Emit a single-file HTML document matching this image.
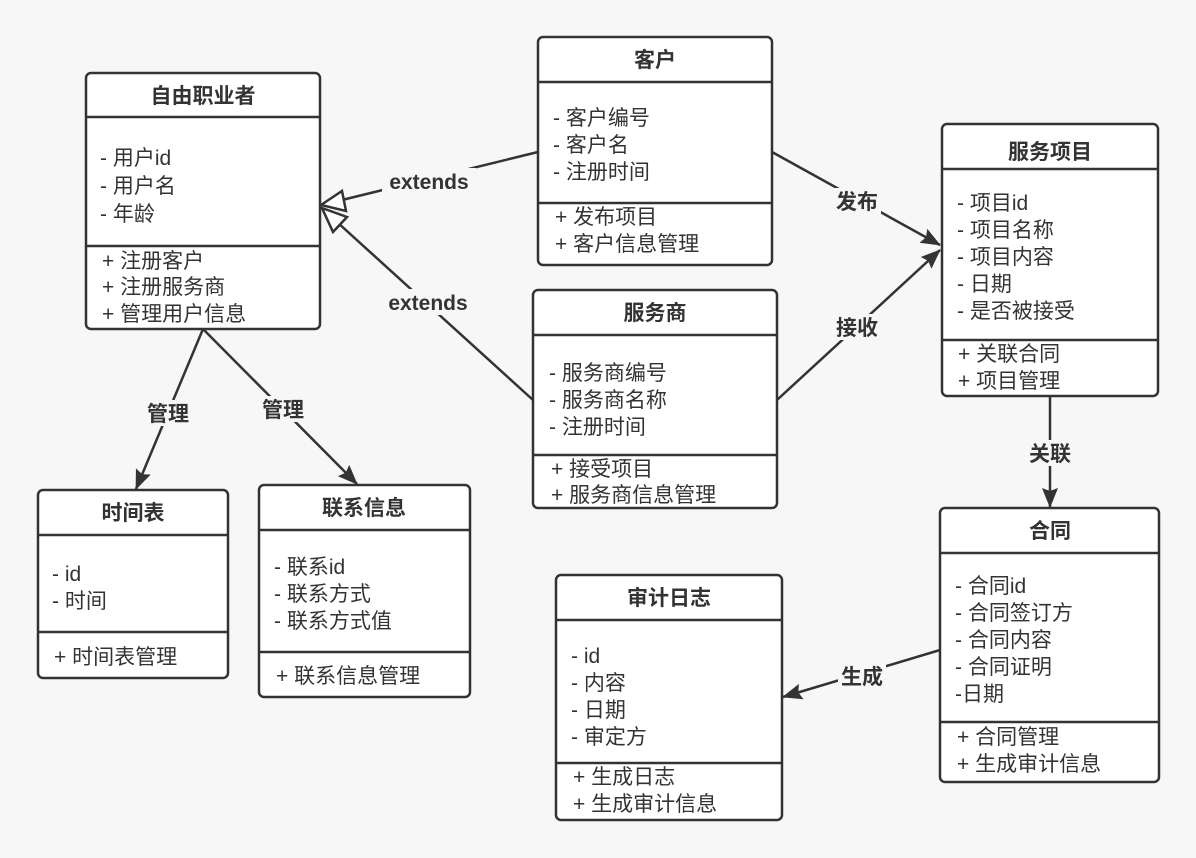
<!DOCTYPE html>
<html><head><meta charset="utf-8"><style>
html,body{margin:0;padding:0;background:#f7f7f7;}
svg{display:block;font-family:"Liberation Sans","Noto Sans CJK SC",sans-serif;}
.b{fill:#fff;stroke:#333;stroke-width:2.5;}
.l{stroke:#333;stroke-width:2.5;fill:none;}
.t{font-size:21px;fill:#333;}
.h{font-size:21px;font-weight:bold;fill:#333;text-anchor:middle;}
.lb{font-size:21px;font-weight:bold;fill:#333;text-anchor:middle;}
.bg{fill:#f7f7f7;}
</style></head><body>
<svg width="1196" height="858" viewBox="0 0 1196 858">
<defs>
<marker id="f" markerWidth="20" markerHeight="16" refX="19" refY="8" orient="auto" markerUnits="userSpaceOnUse" viewBox="0 0 20 16"><path d="M0,0 L20,8 L0,16 L3,8 z" fill="#333"/></marker>
</defs>
<line class="l" x1="538" y1="152" x2="342" y2="200"/>
<path d="M321,205 L342,191 L346,211 z" fill="#fff" stroke="#333" stroke-width="2.5"/>
<line class="l" x1="533" y1="400" x2="337" y2="222"/>
<path d="M322,208 L347,217 L333,232 z" fill="#fff" stroke="#333" stroke-width="2.5"/>
<line class="l" x1="772" y1="152" x2="940" y2="245" marker-end="url(#f)"/>
<line class="l" x1="777" y1="400" x2="940" y2="250" marker-end="url(#f)"/>
<line class="l" x1="1050" y1="396" x2="1050" y2="507" marker-end="url(#f)"/>
<line class="l" x1="203" y1="329" x2="136" y2="489" marker-end="url(#f)"/>
<line class="l" x1="203" y1="329" x2="357" y2="484" marker-end="url(#f)"/>
<line class="l" x1="940" y1="650" x2="783" y2="697" marker-end="url(#f)"/>
<rect class="bg" x="382" y="168" width="94" height="26"/><text class="lb" x="429" y="189">extends</text>
<rect class="bg" x="378" y="289" width="100" height="26"/><text class="lb" x="428" y="310">extends</text>
<rect class="bg" x="833" y="188" width="48" height="26"/><text class="lb" x="857" y="209">发布</text>
<rect class="bg" x="833" y="314" width="48" height="26"/><text class="lb" x="857" y="335">接收</text>
<rect class="bg" x="1026" y="440" width="48" height="26"/><text class="lb" x="1050" y="461">关联</text>
<rect class="bg" x="144" y="400" width="48" height="26"/><text class="lb" x="168" y="421">管理</text>
<rect class="bg" x="259" y="396" width="48" height="26"/><text class="lb" x="283" y="417">管理</text>
<rect class="bg" x="838" y="663" width="48" height="26"/><text class="lb" x="862" y="684">生成</text>
<rect class="b" x="86" y="73" width="234" height="256" rx="5"/>
<line class="l" x1="86" y1="117" x2="320" y2="117"/><line class="l" x1="86" y1="246" x2="320" y2="246"/>
<text class="h" x="203" y="103">自由职业者</text>
<text class="t" x="100" y="165">- 用户id</text><text class="t" x="100" y="193">- 用户名</text><text class="t" x="100" y="221">- 年龄</text>
<text class="t" x="102" y="268">+ 注册客户</text><text class="t" x="102" y="294">+ 注册服务商</text><text class="t" x="102" y="321">+ 管理用户信息</text>
<rect class="b" x="538" y="37" width="234" height="228" rx="5"/>
<line class="l" x1="538" y1="82" x2="772" y2="82"/><line class="l" x1="538" y1="203" x2="772" y2="203"/>
<text class="h" x="655" y="67">客户</text>
<text class="t" x="553" y="125">- 客户编号</text><text class="t" x="553" y="152">- 客户名</text><text class="t" x="553" y="179">- 注册时间</text>
<text class="t" x="555" y="224">+ 发布项目</text><text class="t" x="555" y="251">+ 客户信息管理</text>
<rect class="b" x="942" y="124" width="216" height="272" rx="5"/>
<line class="l" x1="942" y1="169" x2="1158" y2="169"/><line class="l" x1="942" y1="340" x2="1158" y2="340"/>
<text class="h" x="1050" y="159">服务项目</text>
<text class="t" x="957" y="210">- 项目id</text><text class="t" x="957" y="237">- 项目名称</text><text class="t" x="957" y="264">- 项目内容</text><text class="t" x="957" y="291">- 日期</text><text class="t" x="957" y="318">- 是否被接受</text>
<text class="t" x="958" y="361">+ 关联合同</text><text class="t" x="958" y="388">+ 项目管理</text>
<rect class="b" x="533" y="290" width="244" height="218" rx="5"/>
<line class="l" x1="533" y1="335" x2="777" y2="335"/><line class="l" x1="533" y1="455" x2="777" y2="455"/>
<text class="h" x="655" y="320">服务商</text>
<text class="t" x="549" y="380">- 服务商编号</text><text class="t" x="549" y="407">- 服务商名称</text><text class="t" x="549" y="434">- 注册时间</text>
<text class="t" x="551" y="476">+ 接受项目</text><text class="t" x="551" y="502">+ 服务商信息管理</text>
<rect class="b" x="38" y="490" width="190" height="188" rx="5"/>
<line class="l" x1="38" y1="535" x2="228" y2="535"/><line class="l" x1="38" y1="632" x2="228" y2="632"/>
<text class="h" x="133" y="520">时间表</text>
<text class="t" x="52" y="581">- id</text><text class="t" x="52" y="608">- 时间</text>
<text class="t" x="54" y="664">+ 时间表管理</text>
<rect class="b" x="259" y="485" width="211" height="212" rx="5"/>
<line class="l" x1="259" y1="530" x2="470" y2="530"/><line class="l" x1="259" y1="652" x2="470" y2="652"/>
<text class="h" x="364" y="515">联系信息</text>
<text class="t" x="274" y="574">- 联系id</text><text class="t" x="274" y="601">- 联系方式</text><text class="t" x="274" y="628">- 联系方式值</text>
<text class="t" x="276" y="683">+ 联系信息管理</text>
<rect class="b" x="556" y="575" width="226" height="245" rx="5"/>
<line class="l" x1="556" y1="620" x2="782" y2="620"/><line class="l" x1="556" y1="763" x2="782" y2="763"/>
<text class="h" x="669" y="605">审计日志</text>
<text class="t" x="571" y="663">- id</text><text class="t" x="571" y="690">- 内容</text><text class="t" x="571" y="717">- 日期</text><text class="t" x="571" y="744">- 审定方</text>
<text class="t" x="573" y="784">+ 生成日志</text><text class="t" x="573" y="811">+ 生成审计信息</text>
<rect class="b" x="940" y="508" width="219" height="274" rx="5"/>
<line class="l" x1="940" y1="553" x2="1159" y2="553"/><line class="l" x1="940" y1="722" x2="1159" y2="722"/>
<text class="h" x="1050" y="538">合同</text>
<text class="t" x="955" y="593">- 合同id</text><text class="t" x="955" y="620">- 合同签订方</text><text class="t" x="955" y="647">- 合同内容</text><text class="t" x="955" y="674">- 合同证明</text><text class="t" x="955" y="701">-日期</text>
<text class="t" x="957" y="744">+ 合同管理</text><text class="t" x="957" y="771">+ 生成审计信息</text>
</svg>
</body></html>
